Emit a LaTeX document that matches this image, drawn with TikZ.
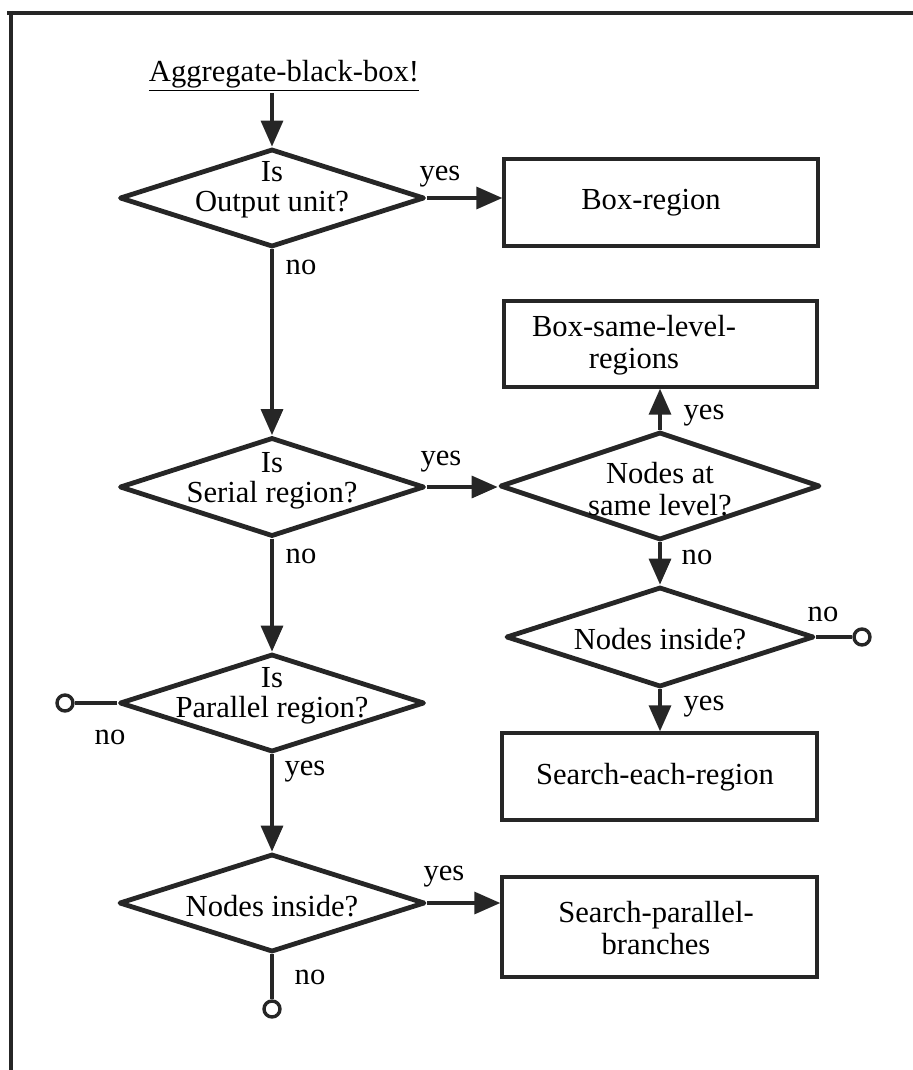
\documentclass[tikz,border=0pt]{standalone}
\usepackage{fontspec}
\setmainfont{Liberation Serif}
\usetikzlibrary{shapes.geometric,arrows.meta}
\begin{document}
\begin{tikzpicture}[x=0.5pt,y=-0.5pt,
  ink/.style={draw=black!85},
  dec/.style={ink,diamond,line width=2.4pt,inner sep=0pt,line join=round},
  procbox/.style={ink,rectangle,line width=1.7pt,inner sep=0pt},
  term/.style={ink,circle,line width=1.7pt,minimum size=8pt,inner sep=0pt},
  flow/.style={draw=black!85,line width=1.7pt,-{Triangle[length=13pt,width=11pt]}},
  plain/.style={draw=black!85,line width=1.7pt},
  txt/.style={align=center,inner sep=0pt,font=\fontsize{15.3}{16}\selectfont},
  lab/.style={inner sep=0pt,font=\fontsize{15.3}{16}\selectfont}
]
\useasboundingbox (0,0) rectangle (913,1070);
% frame
\coordinate (fa) at (7,13);
\coordinate (fb) at (913,13);
\coordinate (fc) at (11,1070);
\draw[draw=black!85,line width=2pt] (fa) -- (fb);
\draw[draw=black!85,line width=2pt] (11,11) -- (fc);

% title
\node[txt] (title) at (284,76) {\underline{Aggregate-black-box!}};
\coordinate (tstart) at (272,93);

% decisions
\node[dec,minimum width=152.5pt,minimum height=49pt] (d1) at (272,198) {};
\node[txt] (d1t) at (272,190) {Is\\[-1pt]Output unit?};
\node[dec,minimum width=152.5pt,minimum height=49.5pt] (d2) at (272,487) {};
\node[txt] (d2t) at (272,481) {Is\\[-1pt]Serial region?};
\node[dec,minimum width=160pt,minimum height=54pt] (d3) at (660,486) {};
\node[txt] (d3t) at (660,489) {Nodes at\\same level?};
\node[dec,minimum width=154pt,minimum height=50pt] (d4) at (660,637) {};
\node[txt] (d4t) at (660,639) {Nodes inside?};
\node[dec,minimum width=152.5pt,minimum height=49pt] (d5) at (272,703) {};
\node[txt] (d5t) at (272,696) {Is\\[-1pt]Parallel region?};
\node[dec,minimum width=153pt,minimum height=49pt] (d6) at (272,903) {};
\node[txt] (d6t) at (272,906) {Nodes inside?};

% process boxes
\node[procbox,minimum width=157pt,minimum height=43.5pt] (b1) at (661,202.5) {};
\node[txt] (b1t) at (651,203) {Box-region};
\node[procbox,minimum width=156.5pt,minimum height=43pt] (b2) at (660.5,344) {};
\node[txt] (b2t) at (634,345) {Box-same-level-\\regions};
\node[procbox,minimum width=157.5pt,minimum height=43.5pt] (b3) at (659.5,776.5) {};
\node[txt] (b3t) at (655,777) {Search-each-region};
\node[procbox,minimum width=157.5pt,minimum height=50pt] (b4) at (659.5,927) {};
\node[txt] (b4t) at (656,928) {Search-parallel-\\branches};

% terminals
\node[term] (c1) at (65,703) {};
\node[term] (c2) at (862,637) {};
\node[term] (c3) at (272,1009) {};

% connectors
\draw[flow] (tstart) -- (d1.north);
\draw[flow] (d1.east) -- (d1.east -| b1.west);
\draw[flow] (d1.south) -- (d2.north);
\draw[flow] (d2.east) -- (d2.east -| d3.west);
\draw[flow] (d3.north) -- (d3.north |- b2.south);
\draw[flow] (d3.south) -- (d4.north);
\draw[plain] (d4.east) -- (c2.west);
\draw[flow] (d4.south) -- (d4.south |- b3.north);
\draw[flow] (d2.south) -- (d5.north);
\draw[plain] (d5.west) -- (c1.east);
\draw[flow] (d5.south) -- (d6.north);
\draw[flow] (d6.east) -- (d6.east -| b4.west);
\draw[plain] (d6.south) -- (c3.north);

% labels
\node[lab] (l1) at (440,177) {yes};
\node[lab] (l2) at (301,267) {no};
\node[lab] (l3) at (441,462) {yes};
\node[lab] (l4) at (301,556) {no};
\node[lab] (l5) at (704,416) {yes};
\node[lab] (l6) at (697,557) {no};
\node[lab] (l7) at (823,614) {no};
\node[lab] (l8) at (704,707) {yes};
\node[lab] (l9) at (110,737) {no};
\node[lab] (l10) at (305,772) {yes};
\node[lab] (l11) at (444,877) {yes};
\node[lab] (l12) at (310,977) {no};
\end{tikzpicture}
\end{document}
